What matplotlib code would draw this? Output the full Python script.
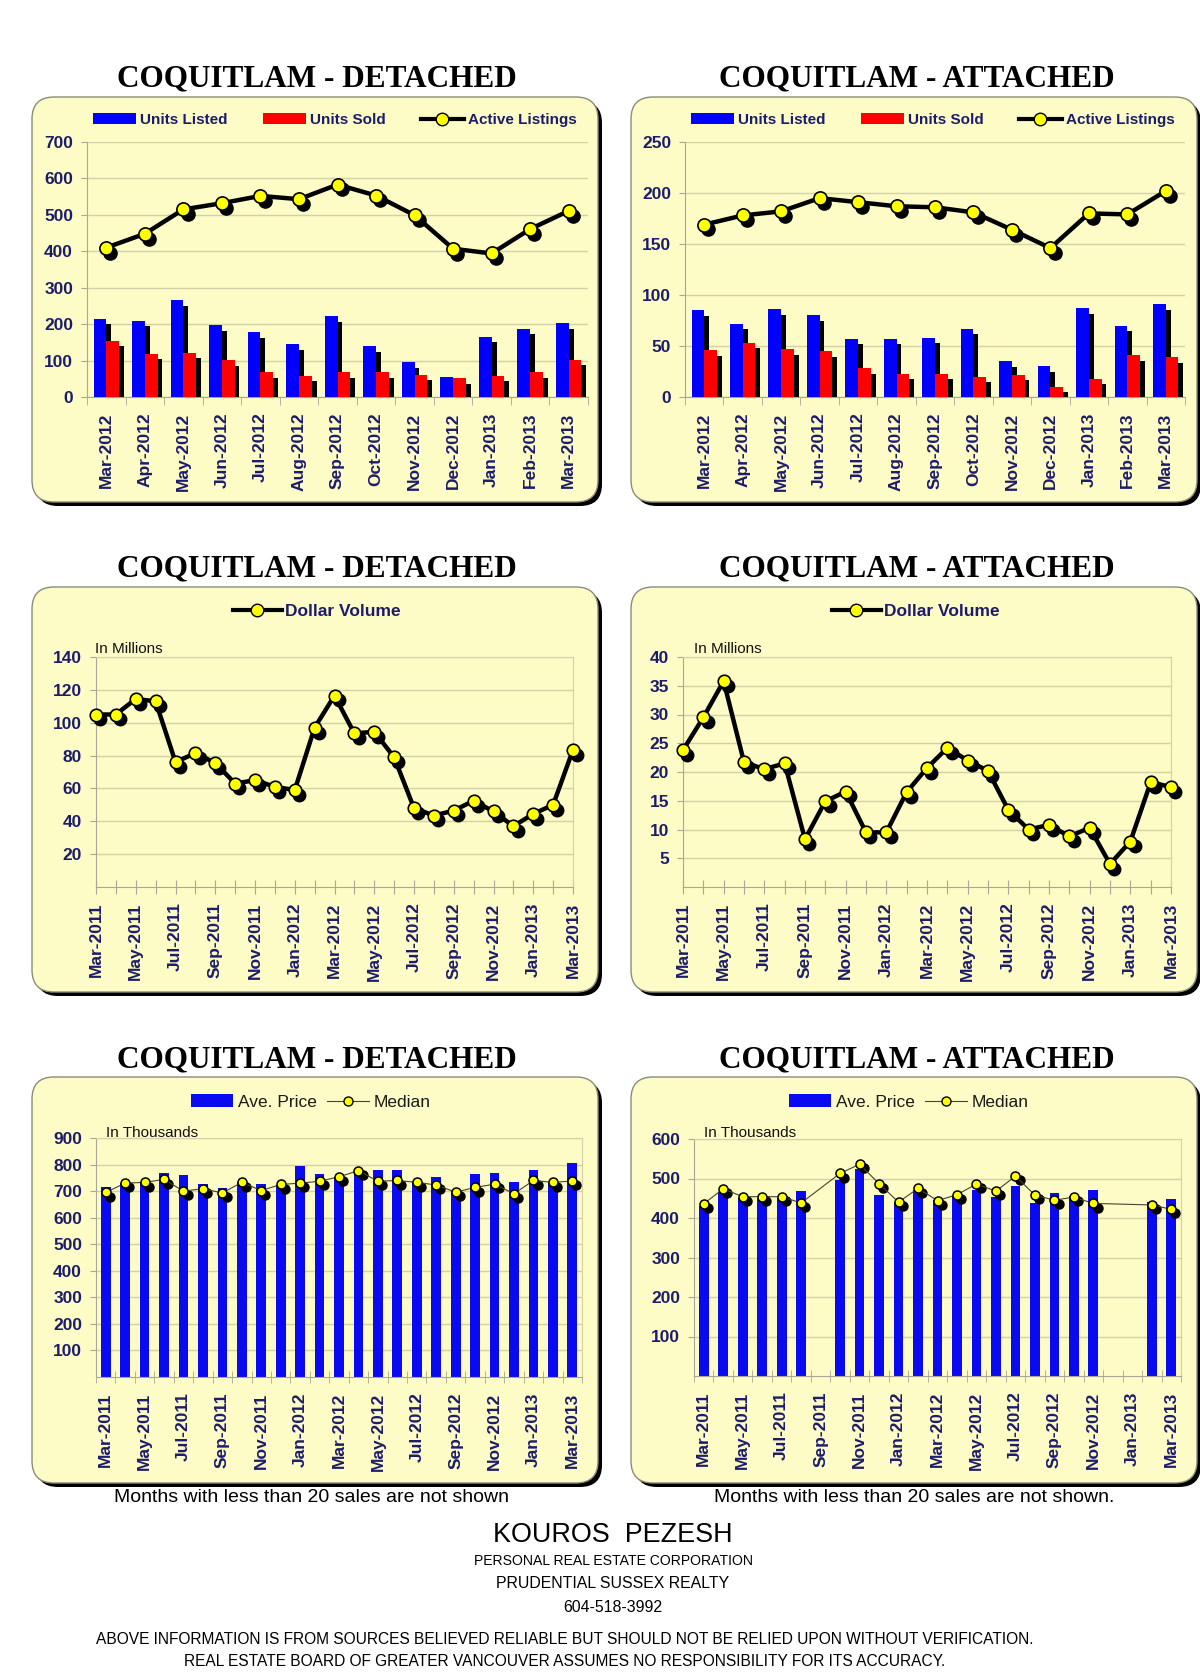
#!/usr/bin/env python3
"""Coquitlam market summary sheet: units, dollar volume and prices."""

import matplotlib
matplotlib.use("Agg")
import matplotlib.pyplot as plt
import numpy as np
from matplotlib import font_manager
from matplotlib import transforms as mtransforms
from matplotlib.lines import Line2D
from matplotlib.patches import FancyBboxPatch, Patch

W, H = 1200, 1673

installed = {f.name for f in font_manager.fontManager.ttflist}
SANS = "Liberation Sans" if "Liberation Sans" in installed else "DejaVu Sans"
HAS_NARROW = "Liberation Sans Narrow" in installed
NARROW = "Liberation Sans Narrow" if HAS_NARROW else SANS
SERIF = "Liberation Serif" if "Liberation Serif" in installed else "DejaVu Serif"
# the regular face is wider than the narrow one, so shrink it a little
NARROW_SCALE = 1.0 if HAS_NARROW else 0.88

PANEL = "#fdfcc6"
GRID = "#d2d2a8"
AXIS = "#a8a898"
NAVY = "#1c1c6c"
BLUE = "#0000ff"
RED = "#ff0000"
YELLOW = "#ffff00"

# ---- data -------------------------------------------------------------
top_months = ["Mar-2012", "Apr-2012", "May-2012", "Jun-2012", "Jul-2012",
              "Aug-2012", "Sep-2012", "Oct-2012", "Nov-2012", "Dec-2012",
              "Jan-2013", "Feb-2013", "Mar-2013"]
det_listed = [215, 210, 265, 197, 178, 145, 221, 139, 95, 55, 165, 187, 203]
det_sold = [155, 119, 122, 101, 68, 59, 68, 68, 61, 51, 58, 68, 102]
det_active = [410, 448, 515, 532, 552, 543, 583, 553, 499, 407, 394, 461, 511]
att_listed = [85, 72, 86, 80, 57, 57, 58, 67, 35, 30, 87, 70, 91]
att_sold = [46, 53, 47, 45, 28, 23, 23, 20, 22, 10, 18, 41, 39]
att_active = [169, 178, 182, 195, 191, 187, 186, 181, 164, 146, 180, 179, 202]

long_months = ["Mar-2011", "Apr-2011", "May-2011", "Jun-2011", "Jul-2011",
               "Aug-2011", "Sep-2011", "Oct-2011", "Nov-2011", "Dec-2011",
               "Jan-2012", "Feb-2012", "Mar-2012", "Apr-2012", "May-2012",
               "Jun-2012", "Jul-2012", "Aug-2012", "Sep-2012", "Oct-2012",
               "Nov-2012", "Dec-2012", "Jan-2013", "Feb-2013", "Mar-2013"]
det_volume = [105, 105, 114.5, 113, 76, 81.5, 75.5, 63, 65, 61, 59, 97, 116.5,
              93.5, 94.5, 79, 48, 43.5, 46.5, 52.5, 46, 37, 44.5, 50, 83.5]
att_volume = [23.8, 29.5, 35.8, 21.7, 20.5, 21.5, 8.3, 14.9, 16.6, 9.5, 9.5,
              16.5, 20.7, 24.2, 22.0, 20.2, 13.4, 10.0, 10.8, 8.8, 10.3, 4.0,
              7.9, 18.2, 17.4]

det_avg = [717, 730, 735, 769, 760, 726, 711, 733, 727, 722, 796, 764, 752,
           770, 779, 779, 735, 752, 700, 765, 767, 733, 778, 730, 807]
det_median = [695, 730, 733, 744, 700, 709, 693, 733, 702, 725, 730, 737, 754,
              777, 737, 740, 733, 723, 696, 714, 726, 690, 740, 733, 738]
# months with fewer than 20 sales are left out (None)
att_avg = [430, 465, 450, 450, 450, 468, None, 495, 523, 457, 440, 470, 445,
           455, 470, 453, 481, 438, 464, 455, 470, None, None, 440, 449]
att_median = [436, 474, 454, 454, 454, 438, None, 513, 536, 487, 440, 475, 444,
              459, 486, 468, 506, 458, 445, 453, 437, None, None, 433, 422]


def px_rect(x0, y0, x1, y1):
    """Figure fraction rect from pixel box (y measured from the top)."""
    return [x0 / W, 1 - y1 / H, (x1 - x0) / W, (y1 - y0) / H]


def shadow_of(ax, dx=3.0, dy=-3.5):
    return mtransforms.offset_copy(ax.transData, fig=fig, x=dx, y=dy, units="points")


def panel(x0, y0, x1, y1):
    style = "round,pad=0,rounding_size=22"
    bg.add_patch(FancyBboxPatch((x0 + 4, y0 + 4), x1 - x0, y1 - y0,
                                boxstyle=style, fc="black", ec="none"))
    bg.add_patch(FancyBboxPatch((x0, y0), x1 - x0, y1 - y0,
                                boxstyle=style, fc=PANEL, ec="#8c8c78", lw=1))


def base_axes(rect, ymax, yticks):
    ax = fig.add_axes(rect)
    ax.set_facecolor("none")
    ax.set_ylim(0, ymax)
    ax.set_yticks(yticks, labels=[str(v) for v in yticks], fontsize=12.5,
                  fontweight="bold", color=NAVY, family=SANS)
    ax.tick_params(axis="y", length=4, color=AXIS, pad=6)
    ax.grid(axis="y", color=GRID, lw=1)
    ax.set_axisbelow(True)
    for side in ["left", "bottom", "top", "right"]:
        ax.spines[side].set_color(AXIS)
    return ax


def units_chart(rect, listed, sold, active, ymax, step, legend_xy):
    ax = base_axes(rect, ymax, list(range(0, ymax + 1, step)))
    ax.spines["top"].set_visible(False)
    ax.spines["right"].set_visible(False)
    x = np.arange(len(top_months))
    w = 0.33
    sh = shadow_of(ax, 3.5, -4)
    ax.bar(x - w / 2, listed, w, color="black", transform=sh, zorder=2)
    ax.bar(x - w / 2, listed, w, color=BLUE, zorder=3)
    ax.bar(x + w / 2, sold, w, color="black", transform=sh, zorder=4)
    ax.bar(x + w / 2, sold, w, color=RED, zorder=5)
    ax.plot(x, active, transform=shadow_of(ax), lw=0, marker="o", ms=9.5,
            mfc="black", mec="black", zorder=6)
    ax.plot(x, active, color="black", lw=3.2, marker="o", ms=9.5, mfc=YELLOW,
            mec="black", mew=1.2, zorder=7)
    ax.set_xlim(-0.5, len(top_months) - 0.5)
    ax.set_xticks(x, labels=top_months, rotation=90, fontsize=12.5,
                  fontweight="bold", color=NAVY, family=SANS)
    ax.set_xticks(np.arange(-0.5, len(top_months)), minor=True)
    ax.tick_params(axis="x", which="major", length=0, pad=11)
    ax.tick_params(axis="x", which="minor", length=6, color=AXIS)
    handles = [Patch(fc=BLUE), Patch(fc=RED),
               Line2D([], [], color="black", lw=3, marker="o", ms=9,
                      mfc=YELLOW, mec="black")]
    fig.legend(handles, ["Units Listed", "Units Sold", "Active Listings"],
               loc="center", bbox_to_anchor=(legend_xy[0] / W, 1 - legend_xy[1] / H),
               ncol=3, frameon=False, handlelength=2.8, handletextpad=0.3,
               columnspacing=2.3, labelcolor=NAVY,
               prop={"family": NARROW, "weight": "bold",
                     "size": 12.5 * NARROW_SCALE})


def long_axis(ax, boundaries):
    n = len(long_months)
    labels = [m if i % 2 == 0 else "" for i, m in enumerate(long_months)]
    if boundaries:
        ax.set_xlim(-0.5, n - 0.5)
        ax.set_xticks(range(n), labels=labels, rotation=90, fontsize=12.5,
                      fontweight="bold", color=NAVY, family=SANS)
        ax.set_xticks(np.arange(-0.5, n), minor=True)
        ax.tick_params(axis="x", which="major", length=0, pad=11)
        ax.tick_params(axis="x", which="minor", length=9, direction="inout",
                       color=AXIS)
    else:
        ax.set_xlim(0, n - 1)
        ax.set_xticks(range(n), labels=labels, rotation=90, fontsize=12.5,
                      fontweight="bold", color=NAVY, family=SANS)
        ax.tick_params(axis="x", length=10, direction="inout", color=AXIS, pad=6)


def volume_chart(rect, volume, ymax, yticks, legend_xy, note_xy):
    ax = base_axes(rect, ymax, yticks)
    ax.spines["top"].set_color(GRID)
    ax.spines["right"].set_color(GRID)
    x = np.arange(len(long_months))
    ax.plot(x, volume, transform=shadow_of(ax), lw=0, marker="o", ms=9,
            mfc="black", mec="black", clip_on=False, zorder=3)
    ax.plot(x, volume, color="black", lw=3.2, marker="o", ms=9, mfc=YELLOW,
            mec="black", mew=1.2, clip_on=False, zorder=4)
    long_axis(ax, boundaries=False)
    fig.legend([Line2D([], [], color="black", lw=3, marker="o", ms=9,
                       mfc=YELLOW, mec="black")], ["Dollar Volume"],
               loc="center", bbox_to_anchor=(legend_xy[0] / W, 1 - legend_xy[1] / H),
               frameon=False, handlelength=2.8, handletextpad=0.2,
               labelcolor=NAVY, prop={"family": SANS, "weight": "bold", "size": 12.5})
    bg.text(note_xy[0], note_xy[1], "In Millions", fontsize=11, family=SANS,
            ha="left", va="center", color="#111111")


def price_chart(rect, avg, median, ymax, yticks, legend_xy, note_xy):
    ax = base_axes(rect, ymax, yticks)
    ax.spines["top"].set_color(GRID)
    ax.spines["right"].set_color(GRID)
    x = np.arange(len(long_months))
    avg_vals = np.array([np.nan if v is None else v for v in avg], dtype=float)
    ax.bar(x, avg_vals, 0.5, color="#0a0af0", zorder=2)
    keep = [i for i, v in enumerate(median) if v is not None]
    med_x = x[keep]
    med_y = [median[i] for i in keep]
    ax.plot(med_x, med_y, transform=shadow_of(ax, 3, -3), lw=0,
            marker="o", ms=6.5, mfc="black", mec="black", zorder=3)
    ax.plot(med_x, med_y, color="#45452a", lw=0.8, marker="o", ms=6.5,
            mfc=YELLOW, mec="black", mew=1.1, zorder=4)
    long_axis(ax, boundaries=True)
    handles = [Patch(fc="#0a0af0"),
               Line2D([], [], color="#45452a", lw=0.8, marker="o", ms=6.5,
                      mfc=YELLOW, mec="black")]
    fig.legend(handles, ["Ave. Price", "Median"], loc="center",
               bbox_to_anchor=(legend_xy[0] / W, 1 - legend_xy[1] / H), ncol=2,
               frameon=False, handlelength=2.4, handletextpad=0.3,
               columnspacing=0.6, labelcolor="#1a1a1a",
               prop={"family": SANS, "size": 12.5})
    bg.text(note_xy[0], note_xy[1], "In Thousands", fontsize=11, family=SANS,
            ha="left", va="center", color="#111111")


fig = plt.figure(figsize=(W / 100, H / 100), dpi=100)
fig.patch.set_facecolor("white")
bg = fig.add_axes([0, 0, 1, 1])
bg.set_xlim(0, W)
bg.set_ylim(H, 0)
bg.axis("off")

for y0, y1, ty in [(97, 502, 79), (587, 992, 569), (1077, 1483, 1060)]:
    panel(32, y0, 598, y1)
    panel(631, y0, 1197, y1)
    bg.text(317, ty, "COQUITLAM - DETACHED", ha="center", va="center",
            fontsize=22.5, fontweight="bold", family=SERIF)
    bg.text(917, ty, "COQUITLAM - ATTACHED", ha="center", va="center",
            fontsize=22.5, fontweight="bold", family=SERIF)

units_chart(px_rect(87, 142, 588, 397), det_listed, det_sold, det_active,
            700, 100, (335, 120))
units_chart(px_rect(685, 142, 1185, 397), att_listed, att_sold, att_active,
            250, 50, (933, 120))

volume_chart(px_rect(96, 657, 573, 887), det_volume, 140,
             list(range(20, 141, 20)), (317, 611), (95, 649))
volume_chart(px_rect(683, 657, 1171, 887), att_volume, 40,
             list(range(5, 41, 5)), (916, 611), (694, 649))

price_chart(px_rect(96, 1138, 582, 1377), det_avg, det_median, 900,
            list(range(100, 901, 100)), (311, 1102), (106, 1133))
price_chart(px_rect(694, 1139, 1181, 1376), att_avg, att_median, 600,
            list(range(100, 601, 100)), (909, 1102), (704, 1133))

bg.text(312, 1497, "Months with less than 20 sales are not shown",
        ha="center", va="center", fontsize=14, family=SANS)
bg.text(914, 1497, "Months with less than 20 sales are not shown.",
        ha="center", va="center", fontsize=14, family=SANS)

s = NARROW_SCALE
bg.text(613, 1535, "KOUROS  PEZESH", ha="center", va="center",
        fontsize=22 * s, family=NARROW)
bg.text(613, 1561, "PERSONAL REAL ESTATE CORPORATION", ha="center",
        va="center", fontsize=11.5 * s, family=NARROW)
bg.text(613, 1584, "PRUDENTIAL SUSSEX REALTY", ha="center", va="center",
        fontsize=13 * s, family=NARROW)
bg.text(613, 1607, "604-518-3992", ha="center", va="center",
        fontsize=13 * s, family=NARROW)
bg.text(565, 1640, "ABOVE INFORMATION IS FROM SOURCES BELIEVED RELIABLE BUT "
        "SHOULD NOT BE RELIED UPON WITHOUT VERIFICATION.", ha="center",
        va="center", fontsize=12.7 * s, family=NARROW)
bg.text(565, 1662, "REAL ESTATE BOARD OF GREATER VANCOUVER ASSUMES NO "
        "RESPONSIBILITY FOR ITS ACCURACY.", ha="center", va="center",
        fontsize=12.7 * s, family=NARROW)

fig.savefig("out.png", dpi=100, facecolor="white")
